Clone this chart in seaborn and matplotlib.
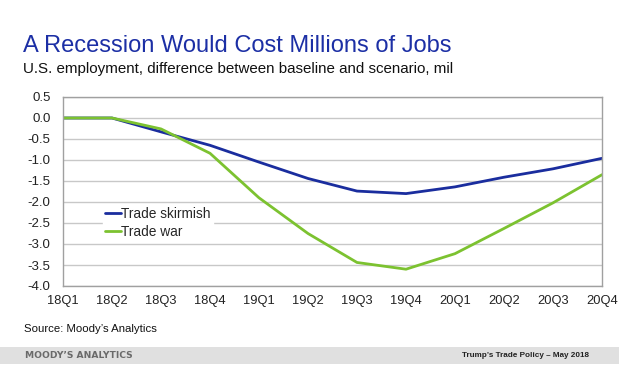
import matplotlib
matplotlib.use("Agg")
import matplotlib.pyplot as plt
import seaborn as sns
import pandas as pd

quarters = ["18Q1", "18Q2", "18Q3", "18Q4", "19Q1", "19Q2", "19Q3", "19Q4",
            "20Q1", "20Q2", "20Q3", "20Q4"]
trade_skirmish = [0.0, 0.0, -0.33, -0.65, -1.05, -1.44, -1.74, -1.80,
                  -1.64, -1.41, -1.21, -0.96]
trade_war = [0.0, 0.0, -0.26, -0.84, -1.90, -2.75, -3.44, -3.60,
             -3.23, -2.63, -2.02, -1.35]
y_ticks = [0.5, 0.0, -0.5, -1.0, -1.5, -2.0, -2.5, -3.0, -3.5, -4.0]

sns.set_theme(style="white")
plt.rcParams['font.family'] = ['Liberation Sans', 'DejaVu Sans']

df = pd.DataFrame({
    "x": list(range(len(quarters))) * 2,
    "value": trade_skirmish + trade_war,
    "series": ["Trade skirmish"] * len(quarters) + ["Trade war"] * len(quarters),
})

fig = plt.figure(figsize=(6.19, 3.67), dpi=100)
ax = fig.add_axes([63 / 619, 1 - 286 / 367, (602 - 63) / 619, (286 - 97) / 367])

sns.lineplot(data=df, x="x", y="value", hue="series",
             palette={"Trade skirmish": "#1a2d9e", "Trade war": "#7cc230"},
             linewidth=2.0, ax=ax)

ax.set_xlim(0, len(quarters) - 1)
ax.set_ylim(-4.0, 0.5)
ax.set_xticks(range(len(quarters)))
ax.set_xticklabels(quarters)
ax.set_yticks(y_ticks)
ax.set_yticklabels([f"{v:.1f}" for v in y_ticks])
ax.set_xlabel("")
ax.set_ylabel("")
ax.grid(axis="y", color="#c8c8c8", linewidth=1.0)
ax.set_axisbelow(True)
for s in ax.spines.values():
    s.set_color("#a0a0a0")
    s.set_linewidth(1.0)
ax.tick_params(axis="x", direction="inout", length=5, color="#a0a0a0",
               labelsize=9.3, pad=4, labelcolor="#222222")
ax.tick_params(axis="y", direction="out", length=3, color="#a0a0a0",
               labelsize=9.5, pad=6, labelcolor="#222222")

leg = ax.legend(loc="upper left", bbox_to_anchor=(0.075, 0.43), frameon=True,
                fontsize=9.9, handlelength=1.1, handletextpad=0.05,
                borderpad=0.15, labelspacing=0.28, fancybox=False,
                borderaxespad=0)
leg.get_frame().set_edgecolor("white")
leg.get_frame().set_facecolor("white")
leg.get_frame().set_alpha(1.0)
leg.set_title(None)

fig.text(23 / 619, 1 - 46 / 367, "A Recession Would Cost Millions of Jobs",
         color="#1c2fa5", fontsize=17, va="center", ha="left")
fig.text(23 / 619, 1 - 68.5 / 367,
         "U.S. employment, difference between baseline and scenario, mil",
         color="#111111", fontsize=10.9, va="center", ha="left")
fig.text(24 / 619, 1 - 328.5 / 367, "Source: Moody\u2019s Analytics",
         color="#111111", fontsize=8.2, va="center", ha="left")

band = plt.Rectangle((0, 1 - 364 / 367), 1, 17 / 367, transform=fig.transFigure,
                     facecolor="#e0e0e0", edgecolor="none", zorder=0)
fig.patches.append(band)
fig.text(25 / 619, 1 - 355.5 / 367, "MOODY\u2019S ANALYTICS", color="#6a6a6a",
         fontsize=6.6, fontweight="bold", va="center", ha="left",
         family=["DejaVu Sans"])
fig.text(589 / 619, 1 - 355.5 / 367, "Trump\u2019s Trade Policy \u2013 May 2018",
         color="#222222", fontsize=5.9, fontweight="bold", va="center", ha="right")

fig.savefig("out.png", dpi=100)
